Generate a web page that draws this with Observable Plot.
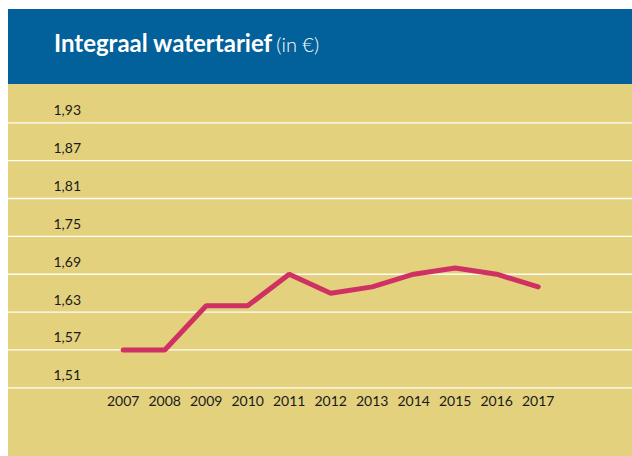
<!DOCTYPE html>
<html>
<head>
<meta charset="utf-8">
<script src="https://cdn.jsdelivr.net/npm/d3@7"></script>
<script src="https://cdn.jsdelivr.net/npm/@observablehq/plot@0.6"></script>
<style>
  html, body { margin: 0; padding: 0; background: #fff; }
  #panel { position: absolute; left: 8px; top: 9px; width: 624px; height: 447px; background: #e3d17e; }
  #header { position: absolute; left: 0; top: 0; width: 624px; height: 75px; background: #02609a; }
  #title { position: absolute; left: 46px; top: 22px; line-height: 1; white-space: nowrap; color: #fff; font-family: Lato, sans-serif; }
  #title b { font-weight: 700; font-size: 24px; }
  #title span { font-weight: 300; font-size: 20px; }
  #chart { position: absolute; left: 0; top: 75px; }
</style>
</head>
<body>
<div id="panel">
  <div id="header"><div id="title"><b>Integraal watertarief</b> <span>(in €)</span></div></div>
  <div id="chart"></div>
</div>
<script>
const years = [2007, 2008, 2009, 2010, 2011, 2012, 2013, 2014, 2015, 2016, 2017];
const tarief = [1.57, 1.57, 1.64, 1.64, 1.69, 1.66, 1.67, 1.69, 1.70, 1.69, 1.67];
const yTicks = [1.51, 1.57, 1.63, 1.69, 1.75, 1.81, 1.87, 1.93];

const data = years.map((y, i) => ({year: y, value: tarief[i]}));
const fmt = d => d.toFixed(2).replace(".", ",");

const chart = Plot.plot({
  width: 624,
  height: 372,
  marginLeft: 0,
  marginRight: 0,
  marginTop: 38.3,
  marginBottom: 68.7,
  style: {background: "#e3d17e", fontFamily: "Lato, sans-serif", fontSize: "14px", color: "#1a1a1a"},
  x: {domain: [2007, 2017], range: [114.7, 529.7], axis: null},
  y: {domain: [1.51, 1.93], axis: null},
  marks: [
    Plot.ruleY(yTicks, {stroke: "#fff", strokeWidth: 1.3, strokeOpacity: 0.95}),
    Plot.text(yTicks, {y: d => d, text: fmt, frameAnchor: "left", textAnchor: "start", dx: 45, dy: -12, fill: "#1a1a1a", fontSize: 14}),
    Plot.axisX(years, {tickSize: 0, tickPadding: 8, tickFormat: d => String(d), fontSize: 14, fill: "#1a1a1a", label: null}),
    Plot.line(data, {x: "year", y: "value", stroke: "#cf3163", strokeWidth: 5, strokeLinecap: "round", strokeLinejoin: "miter"})
  ]
});
document.getElementById("chart").appendChild(chart);
</script>
</body>
</html>
